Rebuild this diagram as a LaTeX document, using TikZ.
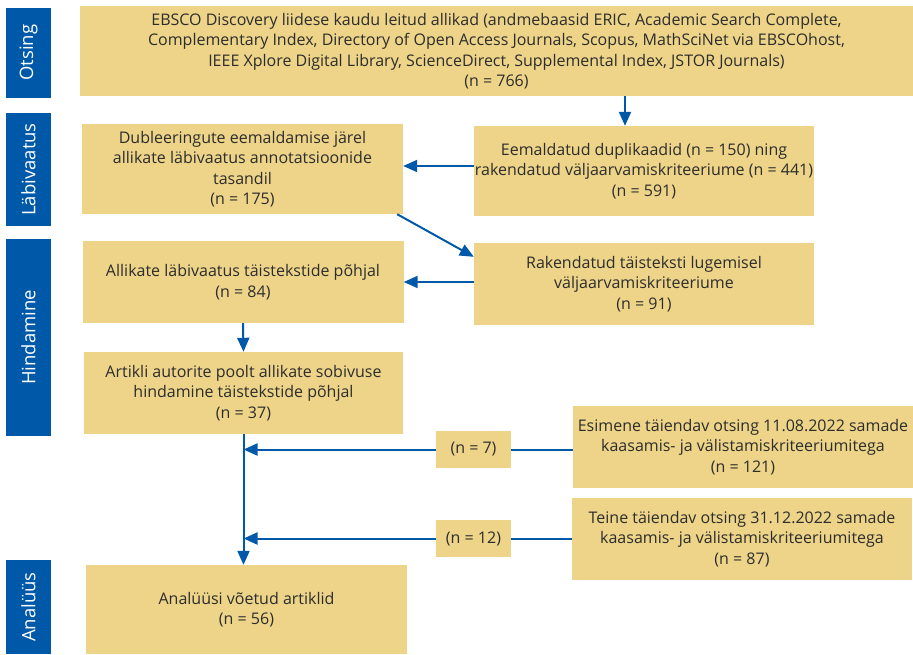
\documentclass[tikz,border=0pt]{standalone}
\usepackage{fontspec}
\setmainfont{Open Sans}
\usepackage{tikz}
\usetikzlibrary{arrows.meta}

\definecolor{boxfill}{RGB}{237,212,136}
\definecolor{barblue}{RGB}{0,89,168}
\definecolor{textgray}{RGB}{45,45,45}

\begin{document}
\begin{tikzpicture}[x=1pt, y=-1pt,
    every node/.style={font=\fontsize{16}{20.5}\selectfont, text=textgray},
    box/.style={fill=boxfill, align=center, inner sep=0pt},
    phase/.style={fill=barblue, text=white, rotate=90, minimum height=45pt,
      inner sep=0pt, font=\fontsize{18.5}{20}\selectfont},
    arr/.style={draw=barblue, line width=2pt, -{Triangle[length=14pt, width=12pt]}},
    link/.style={draw=barblue, line width=2pt}]
    \useasboundingbox (0,0) rectangle (913,654);

    % phases on the left
    \node[phase, minimum width=90pt]  (otsing) at (28.5,52.5)  {Otsing};
    \node[phase, minimum width=113pt] (labiv)  at (28.5,169.5) {Läbivaatus};
    \node[phase, minimum width=197pt] (hind)   at (28.5,337.5) {Hindamine};
    \node[phase, minimum width=94pt]  (anal)   at (28.5,607)   {Analüüs};

    % boxes
    \node[box, minimum width=833pt, minimum height=90pt] (search) at (496.5,51)
      {EBSCO Discovery liidese kaudu leitud allikad (andmebaasid ERIC, Academic Search Complete,\\
       Complementary Index, Directory of Open Access Journals, Scopus, MathSciNet via EBSCOhost,\\
       IEEE Xplore Digital Library, ScienceDirect, Supplemental Index, JSTOR Journals)\\
       (n = 766)};
    \node[box, minimum width=321pt, minimum height=90pt] (dedup) at (242.5,169)
      {Dubleeringute eemaldamise järel\\ allikate läbivaatus annotatsioonide\\ tasandil\\ (n = 175)};
    \node[box, minimum width=340pt, minimum height=90pt] (removed) at (644,171)
      {Eemaldatud duplikaadid (n = 150) ning\\ rakendatud väljaarvamiskriteeriume (n = 441)\\ (n = 591)};
    \node[box, minimum width=321pt, minimum height=82pt] (fulltext) at (243,282)
      {Allikate läbivaatus täistekstide põhjal\\ (n = 84)};
    \node[box, minimum width=340pt, minimum height=82pt] (excluded) at (644,284)
      {Rakendatud täisteksti lugemisel\\ väljaarvamiskriteeriume\\ (n = 91)};
    \node[box, minimum width=319pt, minimum height=82pt] (authors) at (243.5,393)
      {Artikli autorite poolt allikate sobivuse\\ hindamine täistekstide põhjal\\ (n = 37)};
    \node[box, minimum width=340pt, minimum height=82pt] (first) at (743,447)
      {Esimene täiendav otsing 11.08.2022 samade\\ kaasamis- ja välistamiskriteeriumitega\\ (n = 121)};
    \node[box, minimum width=75pt, minimum height=37pt] (nseven) at (473.5,449.5) {(n = 7)};
    \node[box, minimum width=340pt, minimum height=82pt] (second) at (742,539)
      {Teine täiendav otsing 31.12.2022 samade\\ kaasamis- ja välistamiskriteeriumitega\\ (n = 87)};
    \node[box, minimum width=75pt, minimum height=37pt] (ntwelve) at (473.5,538.5) {(n = 12)};
    \node[box, minimum width=321pt, minimum height=89pt] (final) at (246.5,609.5)
      {Analüüsi võetud artiklid\\ (n = 56)};

    % arrows
    \draw[arr] ([xshift=-19pt]removed.north |- search.south) -- ([xshift=-19pt]removed.north);
    \draw[arr] ([yshift=5pt]removed.west) -- ([yshift=5pt]removed.west -| dedup.east);
    \draw[arr] ([xshift=-6pt]dedup.south east) -- ([yshift=-14pt]excluded.north west);
    \draw[arr] (excluded.west |- fulltext.east) -- (fulltext.east);
    \draw[arr] (fulltext.south) -- (authors.north);
    \draw[arr] (authors.south) -- (authors.south |- final.north);

    % additional searches
    \draw[link] (first.west |- nseven.east) -- (nseven.east);
    \draw[arr] (nseven.west) -- (nseven.west -| authors.south);
    \draw[link] (second.west |- ntwelve.east) -- (ntwelve.east);
    \draw[arr] (ntwelve.west) -- (ntwelve.west -| authors.south);
\end{tikzpicture}
\end{document}
